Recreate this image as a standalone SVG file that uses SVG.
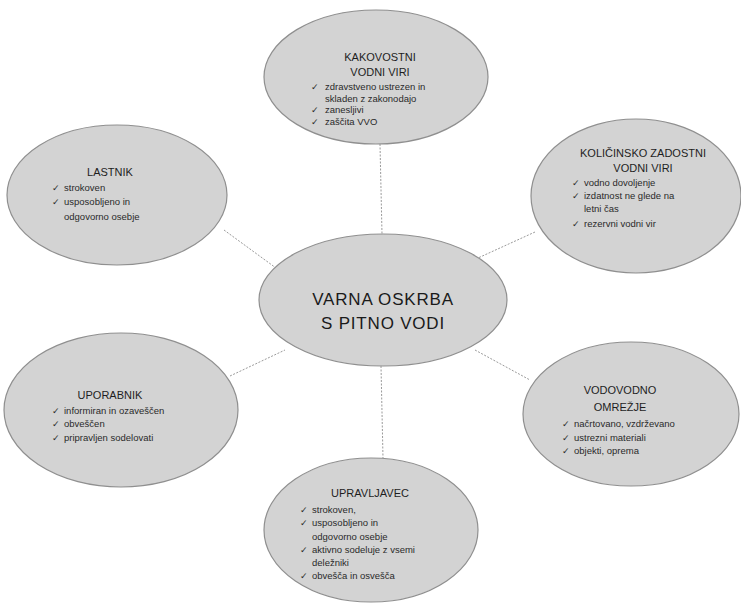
<svg xmlns="http://www.w3.org/2000/svg" width="741" height="605" viewBox="0 0 741 605">
<style>
.bg{fill:#ffffff}
.node{fill:#d3d3d3;stroke:#8f8f8f;stroke-width:1.2}
.conn line{stroke:#9a9a9a;stroke-width:1;stroke-dasharray:2 1.5}
.h{font-family:"Liberation Sans",Arial,sans-serif;font-size:11px;fill:#1e1e1e;text-anchor:middle}
.t{font-family:"Liberation Sans",Arial,sans-serif;font-size:9.5px;fill:#2a2a2a}
.ck{font-family:"DejaVu Sans",sans-serif;font-size:9px;fill:#2a2a2a}
.c{font-family:"Liberation Sans",Arial,sans-serif;font-size:17px;fill:#1a1a1a;text-anchor:middle;letter-spacing:0.8px}
</style>
<rect class="bg" x="0" y="0" width="741" height="605"/>
<g id="connectors" class="conn">
<line x1="380" y1="144" x2="382" y2="234"/>
<line x1="224" y1="230" x2="276" y2="268"/>
<line x1="535" y1="232" x2="478" y2="258"/>
<line x1="230" y1="376" x2="285" y2="350"/>
<line x1="475" y1="350" x2="530" y2="380"/>
<line x1="381" y1="366" x2="383" y2="458"/>
</g>
<g id="center">
<ellipse class="node" cx="383" cy="300" rx="124" ry="66"/>
<text class="c" x="383" y="305">VARNA OSKRBA</text>
<text class="c" x="383" y="329">S PITNO VODI</text>
</g>
<g id="kakovostni">
<ellipse class="node" cx="376" cy="77" rx="112" ry="67"/>
<text class="h" x="380" y="61">KAKOVOSTNI</text>
<text class="h" x="380" y="76">VODNI VIRI</text>
<text class="ck" x="311" y="90">✓</text><text class="t" x="325" y="90">zdravstveno ustrezen in</text>
<text class="t" x="325" y="102">skladen z zakonodajo</text>
<text class="ck" x="311" y="113">✓</text><text class="t" x="325" y="113">zanesljivi</text>
<text class="ck" x="311" y="125">✓</text><text class="t" x="325" y="125">zaščita VVO</text>
</g>
<g id="lastnik">
<ellipse class="node" cx="117" cy="195" rx="110" ry="70"/>
<text class="h" x="110" y="176">LASTNIK</text>
<text class="ck" x="52" y="191">✓</text><text class="t" x="64" y="191">strokoven</text>
<text class="ck" x="52" y="205">✓</text><text class="t" x="64" y="205">usposobljeno in</text>
<text class="t" x="64" y="220">odgovorno osebje</text>
</g>
<g id="kolicinsko">
<ellipse class="node" cx="636" cy="196" rx="105" ry="77"/>
<text class="h" x="643" y="157">KOLIČINSKO ZADOSTNI</text>
<text class="h" x="643" y="172">VODNI VIRI</text>
<text class="ck" x="572" y="186">✓</text><text class="t" x="584" y="186">vodno dovoljenje</text>
<text class="ck" x="572" y="199">✓</text><text class="t" x="584" y="199">izdatnost ne glede na</text>
<text class="t" x="584" y="212">letni čas</text>
<text class="ck" x="572" y="227">✓</text><text class="t" x="584" y="227">rezervni vodni vir</text>
</g>
<g id="uporabnik">
<ellipse class="node" cx="121" cy="410" rx="117" ry="77"/>
<text class="h" x="110" y="399">UPORABNIK</text>
<text class="ck" x="52" y="414">✓</text><text class="t" x="64" y="414">informiran in ozaveščen</text>
<text class="ck" x="52" y="427">✓</text><text class="t" x="64" y="427">obveščen</text>
<text class="ck" x="52" y="441">✓</text><text class="t" x="64" y="441">pripravljen sodelovati</text>
</g>
<g id="vodovodno">
<ellipse class="node" cx="631" cy="414" rx="108" ry="72"/>
<text class="h" x="620" y="394">VODOVODNO</text>
<text class="h" x="620" y="411">OMREŽJE</text>
<text class="ck" x="562" y="427">✓</text><text class="t" x="574" y="427">načrtovano, vzdrževano</text>
<text class="ck" x="562" y="441">✓</text><text class="t" x="574" y="441">ustrezni materiali</text>
<text class="ck" x="562" y="454">✓</text><text class="t" x="574" y="454">objekti, oprema</text>
</g>
<g id="upravljavec">
<ellipse class="node" cx="371" cy="530" rx="107" ry="72"/>
<text class="h" x="370" y="497">UPRAVLJAVEC</text>
<text class="ck" x="300" y="513">✓</text><text class="t" x="312" y="513">strokoven,</text>
<text class="ck" x="300" y="526">✓</text><text class="t" x="312" y="526">usposobljeno in</text>
<text class="t" x="312" y="540">odgovorno osebje</text>
<text class="ck" x="300" y="553">✓</text><text class="t" x="312" y="553">aktivno sodeluje z vsemi</text>
<text class="t" x="312" y="566">deležniki</text>
<text class="ck" x="300" y="579">✓</text><text class="t" x="312" y="579">obvešča in osvešča</text>
</g>
</svg>
